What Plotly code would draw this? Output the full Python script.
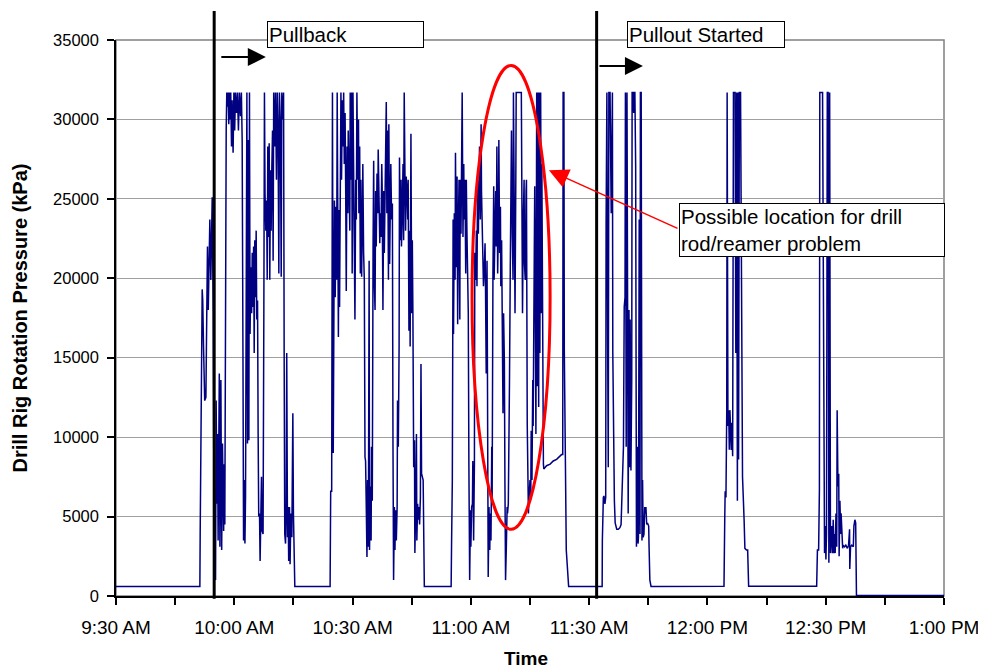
import plotly.graph_objects as go

# ---------------- data (minutes after 9:30 AM, kPa) ----------------
idle1_t = [0, 21.2]
idle1_v = [600, 600]

burst1_t = [21.27, 21.35, 21.5, 21.7, 21.86, 22.0, 22.2, 22.37, 22.5, 22.8, 23.0, 23.2, 23.4, 23.55, 23.8,
            24.05, 24.2, 24.4, 24.65, 24.9, 25.25, 25.4, 25.6, 25.75, 25.9, 26.2, 26.35, 26.6, 26.8, 27.0,
            27.3, 27.45, 27.6, 27.8, 27.95, 28.1, 28.3, 28.45, 28.6, 28.8, 28.95, 29.1, 29.3, 29.45, 29.7,
            29.9, 30.1, 30.3, 30.55, 30.8, 31.05, 31.3, 31.6, 31.8, 32.0, 32.2, 32.35, 32.5, 32.7, 32.85,
            33.0, 33.2, 33.35, 33.5, 33.7, 33.85, 34.0, 34.2, 34.4, 34.55, 34.7, 34.9, 35.05, 35.2, 35.4,
            35.55, 35.7, 35.9, 36.05, 36.2, 36.4, 36.55, 36.7, 36.9, 37.05, 37.3, 37.5, 37.65, 37.8, 38.0,
            38.2, 38.35, 38.5, 38.7, 38.85, 39.0, 39.2, 39.35, 39.5, 39.7, 39.85, 40.0, 40.3, 40.45, 40.7,
            40.9, 41.1, 41.3, 41.45, 41.7, 41.9, 42.05, 42.3, 42.5, 42.65, 42.8, 43.0, 43.15, 43.3, 43.5,
            43.65, 43.8, 44.0, 44.15, 44.35, 44.6, 44.85, 45.0, 45.2, 45.35]
burst1_v = [600, 3900, 8300, 9400, 19300, 18600, 15700, 12700, 12300, 12500, 21100, 22000, 18000, 22000, 23700,
            19900, 23400, 25100, 17800, 2000, 1000, 12300, 5800, 10200, 3500, 14000, 3100, 13600, 2900, 9600,
            4100, 8300, 4500, 27000, 29400, 31700, 30800, 31700, 29700, 31700, 30000, 31700, 28300, 31200, 27900,
            31700, 29300, 31700, 30400, 31700, 29300, 31700, 30200, 31700, 28700, 15300, 3500, 7300, 3300, 6200,
            29500, 31700, 9600, 28700, 9800, 31700, 16500, 20700, 17800, 21600, 18200, 22000, 15300, 22400, 18800,
            23000, 17400, 18600, 10200, 5000, 5200, 2200, 4500, 7500, 4100, 3900, 18200, 31700, 25300, 23000,
            24900, 19900, 28300, 22600, 28500, 19900, 26800, 23000, 26600, 29300, 21100, 31700, 28300, 31700, 26200,
            31700, 29300, 20300, 31700, 29700, 20100, 31700, 30000, 31700, 15300, 3900, 3300, 5200, 15300, 3700,
            5600, 2200, 5600, 2000, 5200, 3700, 11500, 5200, 3100, 600]

burst2_t = [54.3, 54.45, 54.7, 54.9, 55.1, 55.4, 55.6, 55.8, 55.97, 56.1, 56.4, 56.55, 56.7, 56.9, 57.05,
            57.2, 57.4, 57.6, 57.74, 57.9, 58.1, 58.25, 58.4, 58.6, 58.8, 58.9, 59.1, 59.3, 59.4, 59.6,
            59.8, 59.9, 60.1, 60.3, 60.45, 60.6, 60.8, 60.95, 61.1, 61.3, 61.5, 61.6, 61.8, 61.97, 62.1,
            62.3, 62.5, 62.6, 62.8, 62.98, 63.15, 63.3, 63.5, 63.65, 63.8, 64.0, 64.2, 64.3, 64.5, 64.7,
            64.8, 65.0, 65.2, 65.35, 65.5, 65.7, 65.85, 66.0, 66.2, 66.4, 66.5, 66.7, 66.9, 67.0, 67.2,
            67.4, 67.5, 67.7, 67.9, 68.05, 68.2, 68.4, 68.55, 68.7, 68.9, 69.1, 69.2, 69.4, 69.6, 69.7,
            69.9, 70.1, 70.25, 70.4, 70.6, 70.75, 70.9, 71.1, 71.3, 71.4, 71.6, 71.8, 71.9, 72.1, 72.3,
            72.4, 72.6, 72.8, 72.95, 73.1, 73.3, 73.45, 73.6, 73.8, 74.0, 74.1, 74.3, 74.5, 74.6, 74.8,
            75.0, 75.15, 75.3, 75.5, 75.7, 75.8, 76.0, 76.2, 76.3, 76.5, 76.7, 76.8, 77.0, 77.2, 77.35,
            77.5, 77.7, 77.9, 78.2]
burst2_v = [600, 6600, 6600, 31700, 9000, 24900, 18800, 24500, 19900, 31700, 16300, 24300, 18200, 24100, 31700,
            26200, 31200, 28300, 31700, 27200, 30400, 25800, 19200, 28300, 24100, 29300, 26200, 23000, 31700, 26200,
            31700, 20300, 31700, 25100, 23000, 17400, 26200, 23700, 31700, 26200, 30000, 24100, 28300, 20300, 26200,
            20100, 24100, 27200, 21600, 19900, 8750, 8500, 5200, 2450, 7300, 3100, 21100, 2900, 6900, 3500,
            9400, 6000, 22000, 27400, 19900, 18000, 25500, 22000, 26600, 24100, 28100, 24300, 22200, 24100, 22600,
            27200, 25800, 18000, 25500, 21600, 23700, 27000, 31100, 24100, 29300, 19900, 29700, 20900, 24500, 27200,
            23700, 24700, 9400, 1000, 5600, 2900, 5400, 3500, 5600, 12300, 9400, 15700, 27600, 22400, 26200,
            22000, 24100, 27200, 22400, 31700, 26200, 23000, 26400, 25500, 23700, 26200, 16700, 23000, 15700, 29100,
            17800, 22400, 17800, 8100, 9800, 2700, 5400, 10200, 3500, 5800, 4800, 5600, 4500, 6200, 14600,
            7700, 7500, 7300, 600]

burst3_t = [85.0, 85.1, 85.3, 85.5, 85.6, 85.8, 86.0, 86.1, 86.3, 86.5, 86.65, 86.8, 87.0, 87.2, 87.3,
            87.5, 87.7, 87.8, 88.0, 88.2, 88.3, 88.5, 88.7, 88.85, 89.0, 89.2, 89.35, 89.5, 89.7, 89.9,
            90.0, 90.2, 90.4, 90.5, 90.7, 90.9, 91.0, 91.2, 91.4, 91.55, 91.7, 91.9, 92.1, 92.2, 92.4,
            92.6, 92.7, 92.9, 93.1, 93.2, 93.4, 93.6, 93.7, 93.9, 94.1, 94.2, 94.4, 94.6, 94.8, 94.9,
            95.1, 95.3, 95.4, 95.6, 95.8, 95.9, 96.1, 96.3, 96.45, 96.6, 96.8, 97.0, 97.1, 97.3, 97.5,
            97.6, 97.8, 98.0, 98.15, 98.3, 98.5, 98.65, 98.8, 99.0, 99.2, 99.3, 99.5, 99.7, 99.8, 100.0,
            100.2, 100.3, 100.5, 100.7, 100.8, 101.0, 101.2, 101.4, 101.5, 102.8, 103.0, 103.1, 103.3, 103.5, 103.6,
            103.8, 104.0, 104.1, 104.3, 104.5, 104.6, 104.8, 105.0, 105.2, 105.3, 105.5, 105.7, 105.8, 106.0,
            106.2, 106.3, 106.5, 106.7, 106.8, 107.0, 107.2, 107.35, 107.5, 107.7, 107.9, 108.0, 108.2, 108.4,
            108.5, 109.2, 110.1, 110.9, 111.75, 112.6, 113.0, 113.3, 113.4, 113.6, 113.7, 114.2, 114.8]
burst3_v = [600, 3100, 7300, 23700, 16500, 24100, 19900, 27900, 20700, 26400, 17100, 22600, 26200, 17400, 26200,
            22800, 26600, 31700, 22600, 27200, 23700, 26200, 20300, 26200, 23000, 20900, 17800, 8300, 1000, 5400,
            3100, 5600, 5800, 8500, 3500, 8300, 21600, 19900, 23000, 19500, 26200, 22800, 25300, 28300, 23700,
            29700, 25500, 23000, 22400, 19500, 20500, 22200, 19900, 14000, 21100, 3100, 1200, 5600, 2900, 5200,
            3500, 9400, 6200, 20300, 25800, 19900, 23700, 25500, 22000, 28300, 20300, 23700, 28700, 21600, 24500,
            19500, 22400, 15700, 11500, 17800, 14800, 6900, 1000, 3100, 5600, 5200, 5800, 9800, 13600, 20700,
            28300, 29300, 22800, 19900, 31700, 19500, 17800, 26200, 31700, 31700, 24500, 17800, 23700, 26200, 20900,
            19900, 25500, 26200, 10800, 6400, 5200, 6400, 7300, 6400, 10400, 7300, 13600, 10700, 19500,
            25800, 20300, 10200, 31700, 13200, 31700, 11900, 31700, 15300, 31700, 17800, 27200, 11500, 8300,
            8000, 8200, 8300, 8500, 8600, 8800, 8900, 8900, 31700, 31700, 15500, 2900, 600]

burst4_t = [123.3, 123.35, 123.6, 123.75, 124.0, 124.2, 124.3, 124.5, 124.7, 124.85, 125.0, 125.3, 125.6, 125.9,
            126.0, 126.2, 126.4, 126.6, 127.0, 127.4, 127.8, 128.1, 128.3, 128.6, 128.7, 128.9, 129.1, 129.2,
            129.4, 129.6, 129.7, 129.9, 130.1, 130.25, 130.4, 130.6, 130.8, 130.9, 131.1, 131.3, 131.4, 131.6,
            131.8, 132.0, 132.2, 132.4, 132.5, 132.7, 132.9, 133.0, 133.2, 133.4, 133.55, 133.7, 133.9, 134.1,
            134.2, 134.4, 134.6, 134.8, 135.1, 135.2, 135.4, 135.7]
burst4_v = [600, 3500, 6200, 6300, 5800, 6200, 23400, 31700, 15700, 8100, 31700, 31700, 24100, 31700,
            15300, 9400, 6000, 4600, 4200, 4200, 4300, 4500, 6200, 7700, 9400, 18200, 18800, 31700,
            9400, 31700, 17800, 5200, 18000, 8100, 17400, 7900, 13600, 31700, 31700, 30400, 31700, 31700,
            27000, 3100, 9400, 3300, 3700, 23700, 3900, 31700, 31700, 3500, 7300, 3700, 3900, 5600,
            5200, 5600, 4500, 4600, 4400, 3100, 1000, 600]

burst5_t = [154.2, 154.4, 154.5, 154.7, 154.9, 155.0, 155.2, 155.4, 155.55, 155.7, 155.9, 156.05, 156.2, 156.4,
            156.6, 157.0, 157.2, 157.4, 157.6, 157.75, 157.9, 158.1, 158.4, 158.7, 158.9, 159.3, 159.5, 159.9,
            160.2, 160.45]
burst5_v = [620, 5000, 6600, 6200, 11700, 31700, 10700, 11700, 9200, 11700, 10700, 9200, 10900, 8800,
            31700, 31700, 15300, 31700, 6000, 31700, 8600, 31700, 31700, 12300, 7500, 4800, 3000, 2900,
            2900, 620]

burst6_t = [177.7, 177.9, 178.2, 178.4, 178.5, 179.2, 179.55, 179.7, 179.9, 180.05, 180.2, 180.4, 180.6, 180.8,
            181.0, 181.2, 181.5, 181.7, 181.9, 182.1, 182.25, 182.4, 182.6, 182.8, 182.9, 183.1, 183.3, 183.4,
            183.6, 183.8, 183.9, 184.1, 184.3, 184.4, 184.8, 185.1, 185.5, 185.8, 186.05, 186.1, 186.3, 186.6,
            187.0, 187.15, 187.4, 187.6, 187.7]
burst6_v = [620, 2900, 2900, 6700, 31700, 31700, 4400, 2700, 4400, 2300, 3900, 31700, 31700, 2100,
            31700, 2700, 4400, 2700, 4800, 2700, 3900, 2700, 5200, 3100, 11700, 6900, 7700, 2500,
            6000, 3900, 5200, 3500, 3000, 3200, 3100, 3200, 3000, 3200, 4200, 1700, 3100, 3200,
            3100, 4400, 4800, 4600, 30]

idle_end_t = [187.8, 210]
idle_end_v = [30, 30]

tick_minutes = [0, 30, 60, 90, 120, 150, 180, 210]
tick_labels = ["9:30 AM", "10:00 AM", "10:30 AM", "11:00 AM", "11:30 AM", "12:00 PM", "12:30 PM", "1:00 PM"]

event_names = ["Pullback", "Pullout Started"]
event_minutes = [24.9, 121.9]

note_text = "Possible location for drill<br>rod/reamer problem"
x_title = "Time"
y_title = "Drill Rig Rotation Pressure (kPa)"

# ---------------- build series ----------------
t_all = (idle1_t + burst1_t + burst2_t + burst3_t + burst4_t + burst5_t + burst6_t + idle_end_t)
v_all = (idle1_v + burst1_v + burst2_v + burst3_v + burst4_v + burst5_v + burst6_v + idle_end_v)

FONT = "Arial, Liberation Sans, sans-serif"
TXT = 20.5

fig = go.Figure()
fig.add_trace(go.Scatter(x=t_all, y=v_all, mode="lines",
                         line=dict(color="#000080", width=1.5), showlegend=False,
                         hoverinfo="skip"))

# plot-area border (grey, right/top)
fig.add_shape(type="rect", xref="paper", yref="paper", x0=0, x1=1, y0=0, y1=1,
              line=dict(color="#808080", width=1.5), layer="below")

# event vertical lines
for m in event_minutes:
    fig.add_shape(type="line", xref="x", yref="paper", x0=m, x1=m, y0=-0.005, y1=1.052,
                  line=dict(color="black", width=3))

# red ellipse
fig.add_shape(type="circle", xref="x", yref="y", x0=90.3, x1=110.1, y0=4200, y1=33400,
              line=dict(color="#ff0000", width=3))

annos = []
# event label boxes
annos.append(dict(text=event_names[0], xref="x", yref="paper", x=38.3, y=1.0099,
                  xanchor="left", yanchor="middle", showarrow=False, align="left",
                  width=153, height=23, bgcolor="white", bordercolor="black", borderwidth=1, borderpad=1,
                  font=dict(family=FONT, size=TXT, color="black")))
annos.append(dict(text=event_names[1], xref="x", yref="paper", x=129.6, y=1.0099,
                  xanchor="left", yanchor="middle", showarrow=False, align="left",
                  width=154, height=23, bgcolor="white", bordercolor="black", borderwidth=1, borderpad=1,
                  font=dict(family=FONT, size=TXT, color="black")))
# black arrows
annos.append(dict(text="", xref="x", yref="paper", x=38.0, y=0.9694, ax=-46, ay=0,
                  showarrow=True, arrowhead=2, arrowsize=1.8, arrowwidth=2, arrowcolor="black"))
annos.append(dict(text="", xref="x", yref="paper", x=133.65, y=0.9532, ax=-45, ay=0,
                  showarrow=True, arrowhead=2, arrowsize=1.8, arrowwidth=2, arrowcolor="black"))
# red note box + arrow
annos.append(dict(text="", xref="x", yref="y", x=109.8, y=26800, axref="x", ayref="y",
                  ax=142.8, ay=23100, showarrow=True, arrowhead=2, arrowsize=2.6,
                  arrowwidth=1.5, arrowcolor="#ff0000"))
annos.append(dict(text=note_text, xref="x", yref="y", x=142.8, y=24739,
                  xanchor="left", yanchor="top", showarrow=False, align="left", valign="middle",
                  width=262, height=50, bgcolor="white", bordercolor="black", borderwidth=1, borderpad=1,
                  font=dict(family=FONT, size=TXT, color="black")))
# x-axis title
annos.append(dict(text="<b>" + x_title + "</b>", xref="paper", yref="paper", x=0.495, y=-0.113,
                  xanchor="center", yanchor="middle", showarrow=False,
                  font=dict(family=FONT, size=19, color="black")))

fig.update_layout(
    width=978, height=663,
    margin=dict(l=108, r=42, t=32, b=75),
    paper_bgcolor="white", plot_bgcolor="white",
    font=dict(family=FONT, size=17, color="black"),
    annotations=annos,
    xaxis=dict(range=[0, 210], tickmode="array", tickvals=tick_minutes, ticktext=tick_labels,
               automargin=False,
               showgrid=False, zeroline=False, showline=True, linecolor="black", linewidth=1.5,
               ticks="outside", ticklen=7, tickwidth=1.5, tickcolor="black",
               minor=dict(dtick=15, ticks="outside", ticklen=7, tickwidth=1.5, tickcolor="black",
                          showgrid=False),
               ticklabeloverflow="allow", ticklabelstandoff=6,
               tickfont=dict(family=FONT, size=19)),
    yaxis=dict(range=[0, 35000], dtick=5000, tickformat="d", automargin=False,
               showgrid=True, gridcolor="#a0a0a0", gridwidth=1, zeroline=False,
               showline=True, linecolor="black", linewidth=1.5,
               ticks="outside", ticklen=7, tickwidth=1.5, tickcolor="black",
               ticklabelstandoff=5,
               tickfont=dict(family=FONT, size=16.5),
               title=dict(text="<b>" + y_title + "</b>",
                          font=dict(family=FONT, size=20), standoff=20)),
)

fig.write_html("out.html")
